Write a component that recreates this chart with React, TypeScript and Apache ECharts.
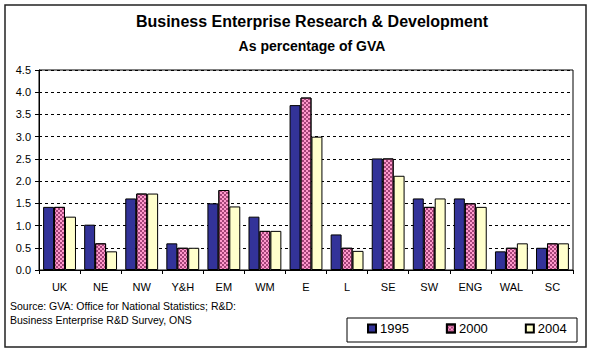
import React, { useEffect, useRef } from "react";
import * as echarts from "echarts";

const categories = ["UK", "NE", "NW", "Y&H", "EM", "WM", "E", "L", "SE", "SW", "ENG", "WAL", "SC"];
const values1995 = [1.42, 1.02, 1.61, 0.6, 1.5, 1.2, 3.71, 0.8, 2.51, 1.61, 1.61, 0.42, 0.5];
const values2000 = [1.42, 0.6, 1.72, 0.5, 1.8, 0.88, 3.88, 0.5, 2.51, 1.42, 1.5, 0.5, 0.6];
const values2004 = [1.2, 0.42, 1.72, 0.5, 1.43, 0.88, 3.0, 0.43, 2.12, 1.61, 1.42, 0.6, 0.6];
const yTicks = [0, 0.5, 1, 1.5, 2, 2.5, 3, 3.5, 4, 4.5];
const seriesNames = ["1995", "2000", "2004"];

const FONT = "Liberation Sans, Arial, sans-serif";

export default function App() {
  const ref = useRef<HTMLDivElement>(null);
  useEffect(() => {
    if (!ref.current) return;
    const chart = echarts.init(ref.current, null, { renderer: "svg" });
    const barBase = {
      type: "bar" as const,
      barGap: "0%",
      barCategoryGap: "20%",
    };
    chart.setOption({
      animation: false,
      backgroundColor: "#fff",
      textStyle: { fontFamily: FONT },
      grid: {
        left: 39,
        right: 20,
        top: 70,
        bottom: 83,
        show: true,
        borderColor: "#000",
        borderWidth: 1,
      },
      xAxis: {
        type: "category",
        data: categories,
        axisLine: { lineStyle: { color: "#000", width: 1 } },
        axisTick: { show: true, length: 4, lineStyle: { color: "#000" } },
        axisLabel: { color: "#000", fontSize: 11, margin: 11, fontFamily: FONT },
      },
      yAxis: {
        type: "value",
        min: yTicks[0],
        max: yTicks[yTicks.length - 1],
        interval: 0.5,
        axisLine: { show: true, lineStyle: { color: "#000", width: 1 } },
        axisTick: { show: true, length: 4, lineStyle: { color: "#000" } },
        axisLabel: {
          color: "#000",
          fontSize: 11,
          margin: 8,
          fontFamily: FONT,
          formatter: (v: number) => v.toFixed(1),
        },
        splitLine: { show: true, lineStyle: { color: "#000", type: [3, 3], width: 1 } },
      },
      legend: {
        left: 367,
        top: 322,
        itemWidth: 8,
        itemHeight: 8,
        itemGap: 37,
        icon: "rect",
        padding: 0,
        textStyle: { fontSize: 13, color: "#000", fontFamily: FONT, padding: [0, 0, 0, -1] },
        data: seriesNames,
      },
      series: [
        {
          ...barBase,
          name: seriesNames[0],
          data: values1995,
          itemStyle: { color: "#333399", borderColor: "#000", borderWidth: 1 },
        },
        {
          ...barBase,
          name: seriesNames[1],
          data: values2000,
          itemStyle: {
            color: "#FF99CC",
            borderColor: "#000",
            borderWidth: 1,
            decal: {
              symbol: "rect",
              symbolSize: 1,
              color: "#A34478",
              dashArrayX: [[2, 2], [0, 2, 2, 0]],
              dashArrayY: [2, 0],
              rotation: 0,
            },
          },
        },
        {
          ...barBase,
          name: seriesNames[2],
          data: values2004,
          itemStyle: { color: "#FFFFCC", borderColor: "#000", borderWidth: 1 },
        },
      ],
      graphic: [
        {
          type: "rect",
          z: -1,
          shape: { x: 5, y: 5, width: 581, height: 342 },
          style: { fill: "none", stroke: "#222", lineWidth: 1.5 },
        },
        {
          type: "rect",
          z: 0,
          shape: { x: 347, y: 318, width: 230, height: 24 },
          style: { fill: "#fff", stroke: "#000", lineWidth: 1 },
        },
        {
          type: "text",
          x: 312,
          y: 21,
          style: {
            text: "Business Enterprise Research & Development",
            font: `bold 16px ${FONT}`,
            fill: "#000",
            textAlign: "center",
            textVerticalAlign: "middle",
          },
        },
        {
          type: "text",
          x: 312,
          y: 46,
          style: {
            text: "As percentage of GVA",
            font: `bold 14px ${FONT}`,
            fill: "#000",
            textAlign: "center",
            textVerticalAlign: "middle",
          },
        },
        {
          type: "text",
          x: 10,
          y: 306,
          style: {
            text: "Source: GVA: Office for National Statistics; R&D:",
            font: `10.5px ${FONT}`,
            fill: "#000",
            textVerticalAlign: "middle",
          },
        },
        {
          type: "text",
          x: 10,
          y: 320,
          style: {
            text: "Business Enterprise R&D Survey, ONS",
            font: `10.5px ${FONT}`,
            fill: "#000",
            textVerticalAlign: "middle",
          },
        },
      ],
    });
    return () => chart.dispose();
  }, []);
  return (
    <div
      ref={ref}
      style={{ position: "fixed", left: 0, top: 0, width: 593, height: 353 }}
    />
  );
}
